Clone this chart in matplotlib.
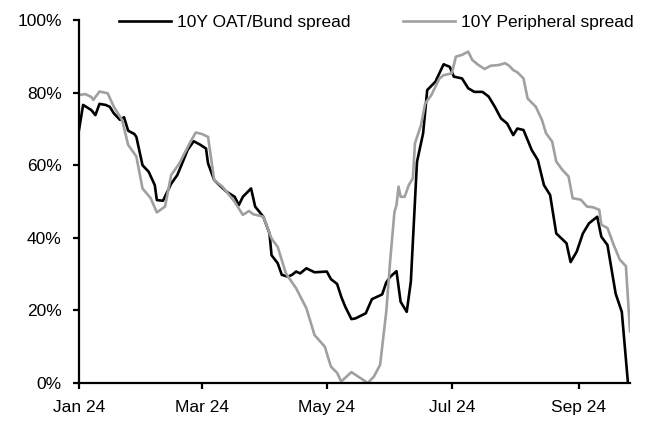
import pandas as pd
import matplotlib
matplotlib.use("Agg")
import matplotlib.pyplot as plt
import matplotlib.dates as mdates
from matplotlib.ticker import FuncFormatter

# Days since 1 Jan 2024 and values (%)
oat_days = [0, 2, 6, 8, 10, 13, 15, 17, 20, 22, 24, 27, 28, 31, 34, 37, 38, 41, 45, 48,
            50, 53, 56, 59, 62, 63, 66, 68, 72, 76, 78, 80, 84, 86, 90, 93, 94, 97, 99, 102,
            104, 106, 108, 111, 115, 121, 123, 126, 128, 130, 133, 135, 140, 143, 148, 150,
            152, 155, 157, 160, 162, 164, 165, 168, 170, 174, 178, 181, 183, 187, 190, 193,
            197, 200, 203, 206, 209, 212, 214, 217, 221, 224, 227, 230, 233, 238, 240, 243,
            246, 249, 253, 255, 258, 262, 265, 268]
oat_vals = [69.7, 76.6, 75.2, 73.8, 76.9, 76.6, 76.1, 74.3, 72.5, 73.2, 69.5, 68.6, 67.8,
            60.0, 58.2, 54.5, 50.4, 50.2, 54.9, 57.3, 60.0, 64.2, 66.6, 65.7, 64.6, 60.5,
            55.9, 54.8, 52.7, 51.3, 49.0, 51.3, 53.6, 48.6, 45.8, 41.2, 35.2, 33.0, 29.8,
            29.3, 29.8, 30.7, 30.2, 31.6, 30.5, 30.7, 28.6, 27.3, 23.8, 21.0, 17.6, 17.8,
            19.2, 23.1, 24.4, 27.7, 29.3, 30.8, 22.4, 19.6, 27.9, 49.9, 60.9, 68.8, 80.7,
            83.0, 87.8, 87.1, 84.4, 83.9, 81.2, 80.2, 80.2, 78.9, 76.1, 72.9, 71.5, 68.3,
            70.1, 69.7, 64.2, 61.4, 54.5, 51.8, 41.2, 38.5, 33.3, 36.2, 41.2, 44.0, 45.8,
            40.3, 38.0, 24.6, 19.6, 0.0]

peri_days = [0, 3, 6, 7, 10, 14, 17, 21, 24, 28, 31, 35, 38, 42, 45, 49, 54, 57, 60, 63,
             66, 70, 76, 80, 83, 85, 90, 94, 97, 101, 106, 111, 115, 120, 123, 126, 128, 133,
             137, 141, 144, 147, 150, 152, 154, 155, 156, 157, 159, 161, 163, 164, 167, 169,
             172, 176, 178, 182, 184, 187, 190, 192, 195, 198, 201, 205, 208, 210, 212, 214,
             217, 219, 223, 226, 228, 231, 233, 236, 239, 241, 245, 248, 251, 254, 255, 258,
             261, 264, 267, 269]
peri_vals = [79.3, 79.6, 78.8, 78.0, 80.3, 79.8, 76.1, 72.5, 65.6, 62.4, 53.6, 50.9, 47.0,
             48.6, 57.3, 60.5, 66.0, 69.0, 68.6, 67.8, 55.9, 54.1, 49.9, 46.3, 47.4, 46.5,
             45.8, 39.8, 37.5, 30.2, 26.1, 20.6, 13.2, 10.0, 4.5, 2.8, 0.4, 3.0, 1.5, 0.0,
             1.8, 5.0, 19.6, 34.3, 47.1, 49.0, 54.1, 51.3, 51.3, 54.5, 56.4, 66.0, 71.1, 77.0,
             79.3, 83.9, 84.8, 85.3, 89.9, 90.4, 91.3, 89.0, 87.6, 86.5, 87.4, 87.6, 88.1,
             87.4, 86.2, 85.6, 83.9, 78.4, 76.1, 72.5, 68.8, 66.5, 61.0, 58.7, 56.9, 50.9,
             50.5, 48.6, 48.4, 47.7, 43.6, 42.7, 38.1, 34.0, 32.2, 14.3]

series_labels = ["10Y OAT/Bund spread", "10Y Peripheral spread"]
start_date = "2024-01-01"
end_day = 269


def to_dates(days):
    return pd.Timestamp(start_date) + pd.to_timedelta(days, unit="D")


def main():
    plt.rcParams["font.family"] = ["Liberation Sans", "DejaVu Sans"]
    plt.rcParams["font.size"] = 12.5

    fig = plt.figure(figsize=(6.45, 4.24), dpi=100)
    ax = fig.add_axes([79 / 645, 1 - 383 / 424, (630 - 79) / 645, (383 - 20) / 424])

    ax.plot(to_dates(oat_days), oat_vals, color="black", lw=1.9, label=series_labels[0])
    ax.plot(to_dates(peri_days), peri_vals, color="#a0a0a0", lw=1.9, label=series_labels[1])

    ax.set_xlim(pd.Timestamp(start_date), to_dates(end_day))
    ax.set_ylim(0, 100)
    ax.set_yticks(range(0, 101, 20))
    ax.yaxis.set_major_formatter(FuncFormatter(lambda v, _: f"{v:.0f}%"))
    ax.xaxis.set_major_locator(mdates.MonthLocator(bymonth=[1, 3, 5, 7, 9]))
    ax.xaxis.set_major_formatter(mdates.DateFormatter("%b %y"))

    # Only left/bottom axis lines, ticks pointing out
    for side in ["top", "right"]:
        ax.spines[side].set_visible(False)
    for side in ["left", "bottom"]:
        ax.spines[side].set_linewidth(1.6)
    ax.tick_params(direction="out", length=4.5, width=1.6, pad=8)

    fig.legend(loc="center left", bbox_to_anchor=(119 / 645, 1 - 22 / 424), ncol=2,
               frameon=False, borderpad=0, borderaxespad=0, handlelength=3.0,
               handletextpad=0.35, columnspacing=3.0)

    fig.savefig("out.png", dpi=100)
    plt.close(fig)


if __name__ == "__main__":
    main()
